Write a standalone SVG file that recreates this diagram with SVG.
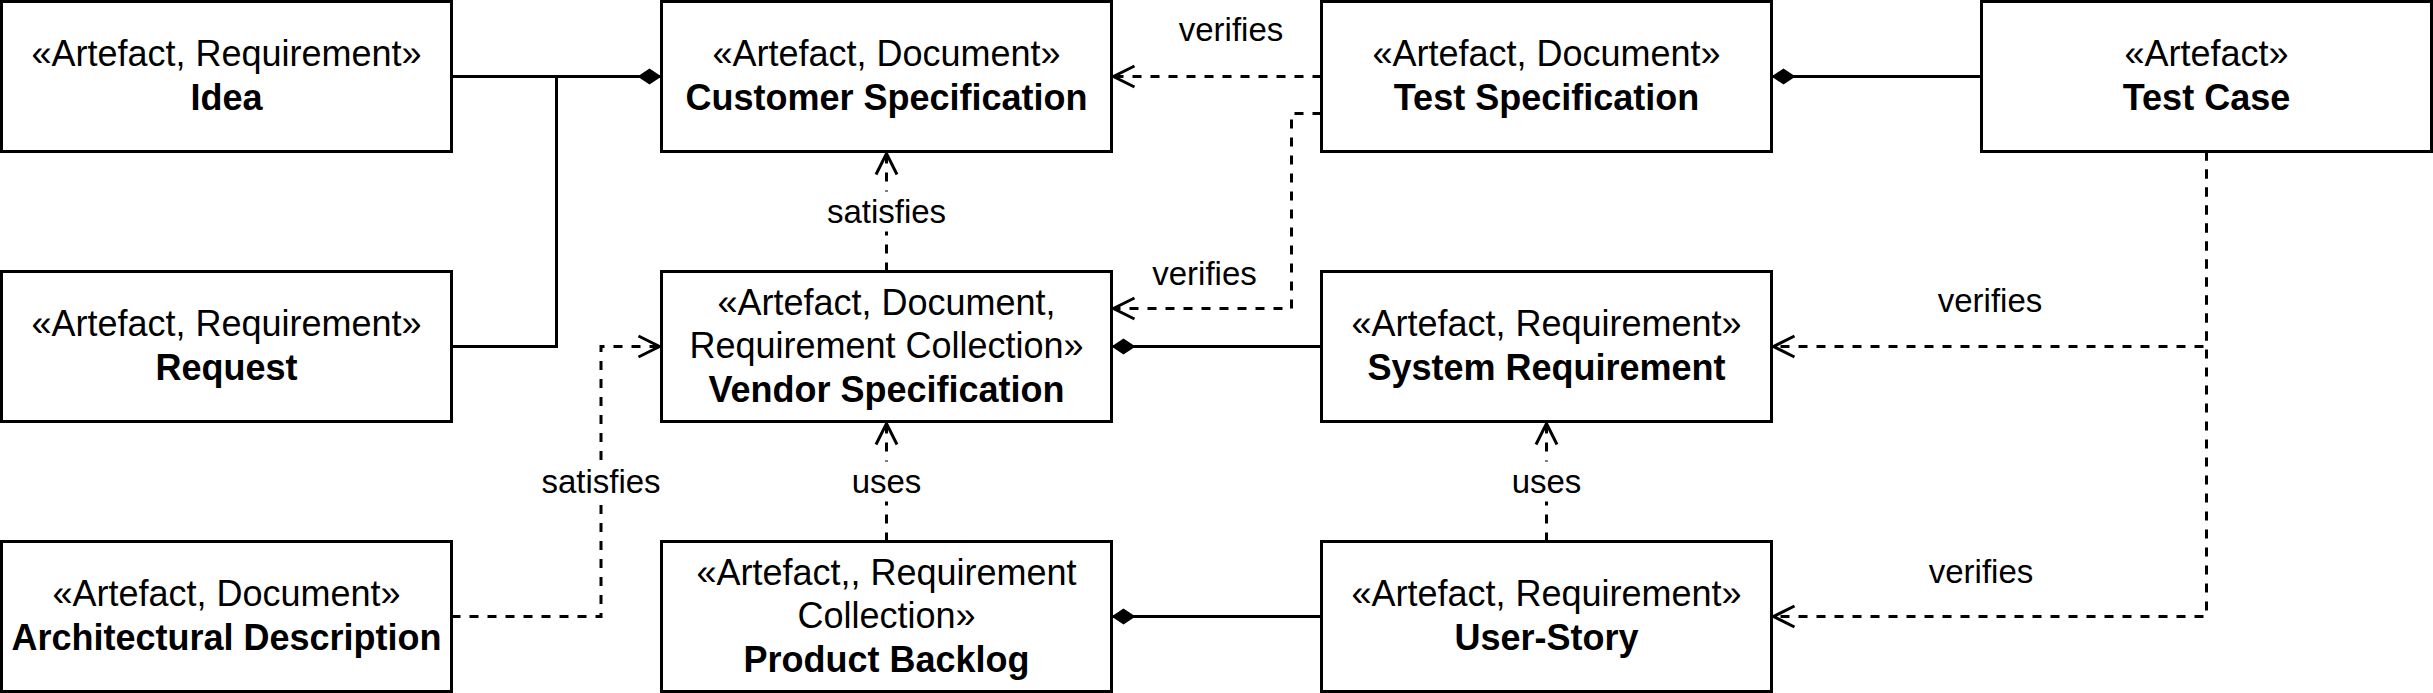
<svg xmlns="http://www.w3.org/2000/svg" width="2433" height="693" viewBox="0 0 2433 693">
<style>
.box{fill:#fff;stroke:#000;stroke-width:3}
text{font-family:"Liberation Sans",Arial,sans-serif;fill:#000;text-anchor:middle}
.st{font-size:36px}
.nm{font-size:36px;font-weight:bold}
.edge{fill:none;stroke:#000;stroke-width:3}
.dash{stroke-dasharray:9 9}
.lbl{font-size:33px;dominant-baseline:central}
.bg{fill:#fff;stroke:none}
</style>
<defs>
<marker id="open" markerUnits="userSpaceOnUse" orient="auto" refX="0" refY="0" markerWidth="30" markerHeight="30" overflow="visible">
<path d="M-23 -10.5 L-2 0 L-23 10.5" fill="none" stroke="#000" stroke-width="3" stroke-dasharray="none"/>
</marker>
<marker id="diam" markerUnits="userSpaceOnUse" orient="auto" refX="0" refY="0" markerWidth="30" markerHeight="30" overflow="visible">
<path d="M0 0 L-12 -8 L-24 0 L-12 8 Z" fill="#000" stroke="none"/>
</marker>
</defs>

<g id="connectors">
<path id="e-idea-cust" class="edge" d="M451.5 76.5 H661.5" marker-end="url(#diam)"/>
<path id="e-request-cust" class="edge" d="M451.5 346.5 H556.5 V76.5"/>
<path id="e-testspec-cust" class="edge dash" d="M1321.5 76.5 H1111.5" marker-end="url(#open)"/>
<path id="e-testspec-vendor" class="edge dash" d="M1321.5 113.5 H1291.5 V308.5 H1111.5" marker-end="url(#open)"/>
<path id="e-vendor-cust" class="edge dash" d="M886.5 271.5 V151.5" marker-end="url(#open)"/>
<path id="e-sysreq-vendor" class="edge" d="M1321.5 346.5 H1111.5" marker-end="url(#diam)"/>
<path id="e-testcase-testspec" class="edge" d="M1981.5 76.5 H1771.5" marker-end="url(#diam)"/>
<path id="e-testcase-sysreq" class="edge dash" d="M2206.5 151.5 V346.5 H1771.5" marker-end="url(#open)"/>
<path id="e-testcase-story" class="edge dash" d="M2206.5 151.5 V616.5 H1771.5" marker-end="url(#open)"/>
<path id="e-story-sysreq" class="edge dash" d="M1546.5 541.5 V421.5" marker-end="url(#open)"/>
<path id="e-backlog-vendor" class="edge dash" d="M886.5 541.5 V421.5" marker-end="url(#open)"/>
<path id="e-story-backlog" class="edge" d="M1321.5 616.5 H1111.5" marker-end="url(#diam)"/>
<path id="e-arch-vendor" class="edge dash" d="M451.5 616.5 H601 V346.5 H661.5" marker-end="url(#open)"/>

<rect class="bg" x="826" y="191.5" width="121" height="40"/>
<text class="lbl" x="886.5" y="211.5">satisfies</text>
<rect class="bg" x="540.5" y="461.5" width="121" height="40"/>
<text class="lbl" x="601" y="481.5">satisfies</text>
<rect class="bg" x="850" y="461.5" width="73" height="40"/>
<text class="lbl" x="886.5" y="481.5">uses</text>
<rect class="bg" x="1510" y="461.5" width="73" height="40"/>
<text class="lbl" x="1546.5" y="481.5">uses</text>
<text class="lbl" x="1231" y="29.5">verifies</text>
<text class="lbl" x="1204.5" y="273.5">verifies</text>
<text class="lbl" x="1990" y="300.5">verifies</text>
<text class="lbl" x="1981" y="571.5">verifies</text>
</g>

<g id="idea">
<rect class="box" x="1.5" y="1.5" width="450" height="150"/>
<text class="st" x="226.5" y="66">«Artefact, Requirement»</text>
<text class="nm" x="226.5" y="110">Idea</text>
</g>
<g id="customer-specification">
<rect class="box" x="661.5" y="1.5" width="450" height="150"/>
<text class="st" x="886.5" y="66">«Artefact, Document»</text>
<text class="nm" x="886.5" y="110">Customer Specification</text>
</g>
<g id="test-specification">
<rect class="box" x="1321.5" y="1.5" width="450" height="150"/>
<text class="st" x="1546.5" y="66">«Artefact, Document»</text>
<text class="nm" x="1546.5" y="110">Test Specification</text>
</g>
<g id="test-case">
<rect class="box" x="1981.5" y="1.5" width="450" height="150"/>
<text class="st" x="2206.5" y="66">«Artefact»</text>
<text class="nm" x="2206.5" y="110">Test Case</text>
</g>

<g id="request">
<rect class="box" x="1.5" y="271.5" width="450" height="150"/>
<text class="st" x="226.5" y="336">«Artefact, Requirement»</text>
<text class="nm" x="226.5" y="380">Request</text>
</g>
<g id="vendor-specification">
<rect class="box" x="661.5" y="271.5" width="450" height="150"/>
<text class="st" x="886.5" y="314.5">«Artefact, Document,</text>
<text class="st" x="886.5" y="358">Requirement Collection»</text>
<text class="nm" x="886.5" y="401.5">Vendor Specification</text>
</g>
<g id="system-requirement">
<rect class="box" x="1321.5" y="271.5" width="450" height="150"/>
<text class="st" x="1546.5" y="336">«Artefact, Requirement»</text>
<text class="nm" x="1546.5" y="380">System Requirement</text>
</g>

<g id="architectural-description">
<rect class="box" x="1.5" y="541.5" width="450" height="150"/>
<text class="st" x="226.5" y="606">«Artefact, Document»</text>
<text class="nm" x="226.5" y="650">Architectural Description</text>
</g>
<g id="product-backlog">
<rect class="box" x="661.5" y="541.5" width="450" height="150"/>
<text class="st" x="886.5" y="584.5">«Artefact,, Requirement</text>
<text class="st" x="886.5" y="628">Collection»</text>
<text class="nm" x="886.5" y="671.5">Product Backlog</text>
</g>
<g id="user-story">
<rect class="box" x="1321.5" y="541.5" width="450" height="150"/>
<text class="st" x="1546.5" y="606">«Artefact, Requirement»</text>
<text class="nm" x="1546.5" y="650">User-Story</text>
</g>
</svg>
